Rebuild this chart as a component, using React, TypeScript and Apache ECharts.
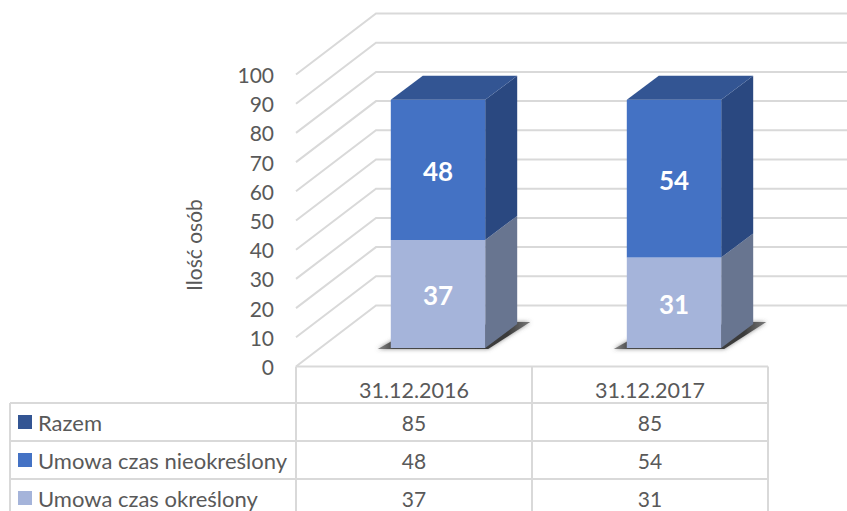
import React, { useEffect, useRef } from "react";
import * as echarts from "echarts";

const categories = ["31.12.2016", "31.12.2017"];
const razem = [85, 85];
const nieokreslony = [48, 54];
const okreslony = [37, 31];
const yTicks = [0, 10, 20, 30, 40, 50, 60, 70, 80, 90, 100];
const tableRows = [
  { name: "Razem", values: razem, color: "#335593" },
  { name: "Umowa czas nieokreślony", values: nieokreslony, color: "#4472c4" },
  { name: "Umowa czas określony", values: okreslony, color: "#a5b4da" },
];

const FONT = "Lato";
const TEXT = "#595959";
const LINE = "#d9d9d9";
const W = 847, H = 511;
const GRID = { left: 296, top: 74.5, width: 472, height: 292 };
const WALL = { dx: 80, dy: -61 };
const BAR = { ox: 24, oy: -18.5, dx: 32, dy: -24, ratio: 0.4 };
const ROW_Y = [403, 441, 479];
const ROW_CENTER = [422, 460, 498];
const TABLE_LEFT = 10;

const barBox = (api: any, cat: number, from: number, to: number) => {
  const w = api.size([1, 0])[0] * BAR.ratio;
  const a = api.coord([cat, from]);
  const b = api.coord([cat, to]);
  const x0 = a[0] + BAR.ox - w / 2;
  return { x0, x1: x0 + w, y0: a[1] + BAR.oy, y1: b[1] + BAR.oy };
};

const poly = (points: number[][], fill: string) => ({
  type: "polygon",
  shape: { points },
  style: { fill },
});

const stackPiece = (front: string, side: string, top: string | null, label: string) => (params: any, api: any) => {
  const { x0, x1, y0, y1 } = barBox(api, api.value(0), api.value(1), api.value(2));
  const children: any[] = [
    poly([[x1, y0], [x1 + BAR.dx, y0 + BAR.dy], [x1 + BAR.dx, y1 + BAR.dy], [x1, y1]], side),
    poly([[x0, y0], [x1, y0], [x1, y1], [x0, y1]], front),
  ];
  if (top) {
    children.push(poly([[x0, y1], [x1, y1], [x1 + BAR.dx, y1 + BAR.dy], [x0 + BAR.dx, y1 + BAR.dy]], top));
  }
  children.push({
    type: "text",
    style: {
      text: String(api.value(2) - api.value(1)),
      x: (x0 + x1) / 2,
      y: (y0 + y1) / 2 + 1.5,
      fill: label,
      font: `bold 26px ${FONT}`,
      align: "center",
      verticalAlign: "middle",
    },
  });
  return { type: "group", children };
};

const renderGrid = (params: any, api: any) => {
  const x = params.coordSys.x;
  const y = api.coord([0, api.value(0)])[1];
  return {
    type: "polyline",
    shape: { points: [[x, y], [x + WALL.dx, y + WALL.dy], [W, y + WALL.dy]] },
    style: { stroke: LINE, lineWidth: 2, fill: "none" },
  };
};

const renderShadow = (params: any, api: any) => {
  const { x0, x1, y0 } = barBox(api, api.value(0), 0, 1);
  return {
    type: "polygon",
    shape: {
      points: [
        [x0 - 13, y0 + 1],
        [x1 + 3, y0 + 1],
        [x1 + 45, y0 - 26],
        [x1 + 20, y0 - 26],
        [x0 + 10, y0 - 12],
      ],
    },
    style: {
      fill: new echarts.graphic.LinearGradient(0, 0, 1, 0, [
        { offset: 0, color: "#8a8a8a" },
        { offset: 0.1, color: "#4a4a4a" },
        { offset: 0.85, color: "#3a3a3a" },
        { offset: 1, color: "#7a7a7a" },
      ]),
      shadowBlur: 4,
      shadowColor: "rgba(90,90,90,0.7)",
    },
  };
};

const line = (x1: number, y1: number, x2: number, y2: number) => ({
  type: "line",
  shape: { x1, y1, x2, y2 },
  style: { stroke: LINE, lineWidth: 2 },
  silent: true,
});

export default function App() {
  const ref = useRef<HTMLDivElement>(null);
  useEffect(() => {
    document.body.style.margin = "0";
    const chart = echarts.init(ref.current!, undefined, { renderer: "svg" });
    const bandW = GRID.width / categories.length;
    const gridRight = GRID.left + GRID.width;
    const bottom = GRID.top + GRID.height;
    const graphics: any[] = [
      line(GRID.left, bottom, gridRight, bottom),
      ...[0, 1, 2].map((i) => line(GRID.left + bandW * i, bottom, GRID.left + bandW * i, H)),
      ...ROW_Y.map((y) => line(TABLE_LEFT, y, gridRight, y)),
      line(TABLE_LEFT, ROW_Y[0], TABLE_LEFT, H),
      {
        type: "text",
        x: 193,
        y: 245,
        rotation: Math.PI / 2,
        style: {
          text: "Ilość osób",
          font: `21px ${FONT}`,
          fill: TEXT,
          align: "center",
          verticalAlign: "middle",
        },
      },
    ];
    tableRows.forEach((row, r) => {
      graphics.push({
        type: "rect",
        shape: { x: 18, y: ROW_CENTER[r] - 7, width: 14, height: 14 },
        style: { fill: row.color },
      });
      graphics.push({
        type: "text",
        style: {
          text: row.name,
          x: 38,
          y: ROW_CENTER[r],
          font: `22px ${FONT}`,
          fill: TEXT,
          align: "left",
          verticalAlign: "middle",
        },
      });
      row.values.forEach((v, c) => {
        graphics.push({
          type: "text",
          style: {
            text: String(v),
            x: GRID.left + bandW * (c + 0.5),
            y: ROW_CENTER[r],
            font: `21px ${FONT}`,
            fill: TEXT,
            align: "center",
            verticalAlign: "middle",
          },
        });
      });
    });

    chart.setOption({
      animation: false,
      backgroundColor: "#ffffff",
      grid: { ...GRID, containLabel: false },
      graphic: graphics,
      tooltip: { show: false },
      xAxis: {
        type: "category",
        data: categories,
        axisLine: { show: false },
        axisTick: { show: false },
        axisLabel: { color: TEXT, fontFamily: FONT, fontSize: 21.5, margin: 12 },
      },
      yAxis: {
        type: "value",
        min: 0,
        max: 100,
        interval: 10,
        axisLine: { show: false },
        axisTick: { show: false },
        splitLine: { show: false },
        axisLabel: { color: TEXT, fontFamily: FONT, fontSize: 21, margin: 22 },
      },
      series: [
        {
          type: "custom",
          name: "siatka",
          coordinateSystem: "cartesian2d",
          data: yTicks.map((t) => [t]),
          encode: { y: 0 },
          renderItem: renderGrid,
          clip: false,
          silent: true,
        },
        {
          type: "custom",
          name: "cień",
          data: categories.map((_, i) => [i]),
          encode: { x: 0 },
          renderItem: renderShadow,
          clip: false,
          silent: true,
        },
        {
          type: "custom",
          name: "Umowa czas określony",
          data: categories.map((_, i) => [i, 0, okreslony[i]]),
          encode: { x: 0, y: [1, 2] },
          renderItem: stackPiece("#a5b4da", "#687590", null, "#ffffff"),
          clip: false,
          silent: true,
        },
        {
          type: "custom",
          name: "Umowa czas nieokreślony",
          data: categories.map((_, i) => [i, okreslony[i], okreslony[i] + nieokreslony[i]]),
          encode: { x: 0, y: [1, 2] },
          renderItem: stackPiece("#4472c4", "#2a4880", "#335593", "#ffffff"),
          clip: false,
          silent: true,
        },
      ],
    });
    return () => chart.dispose();
  }, []);
  return <div ref={ref} style={{ width: W, height: H, position: "absolute", left: 0, top: 0 }} />;
}
